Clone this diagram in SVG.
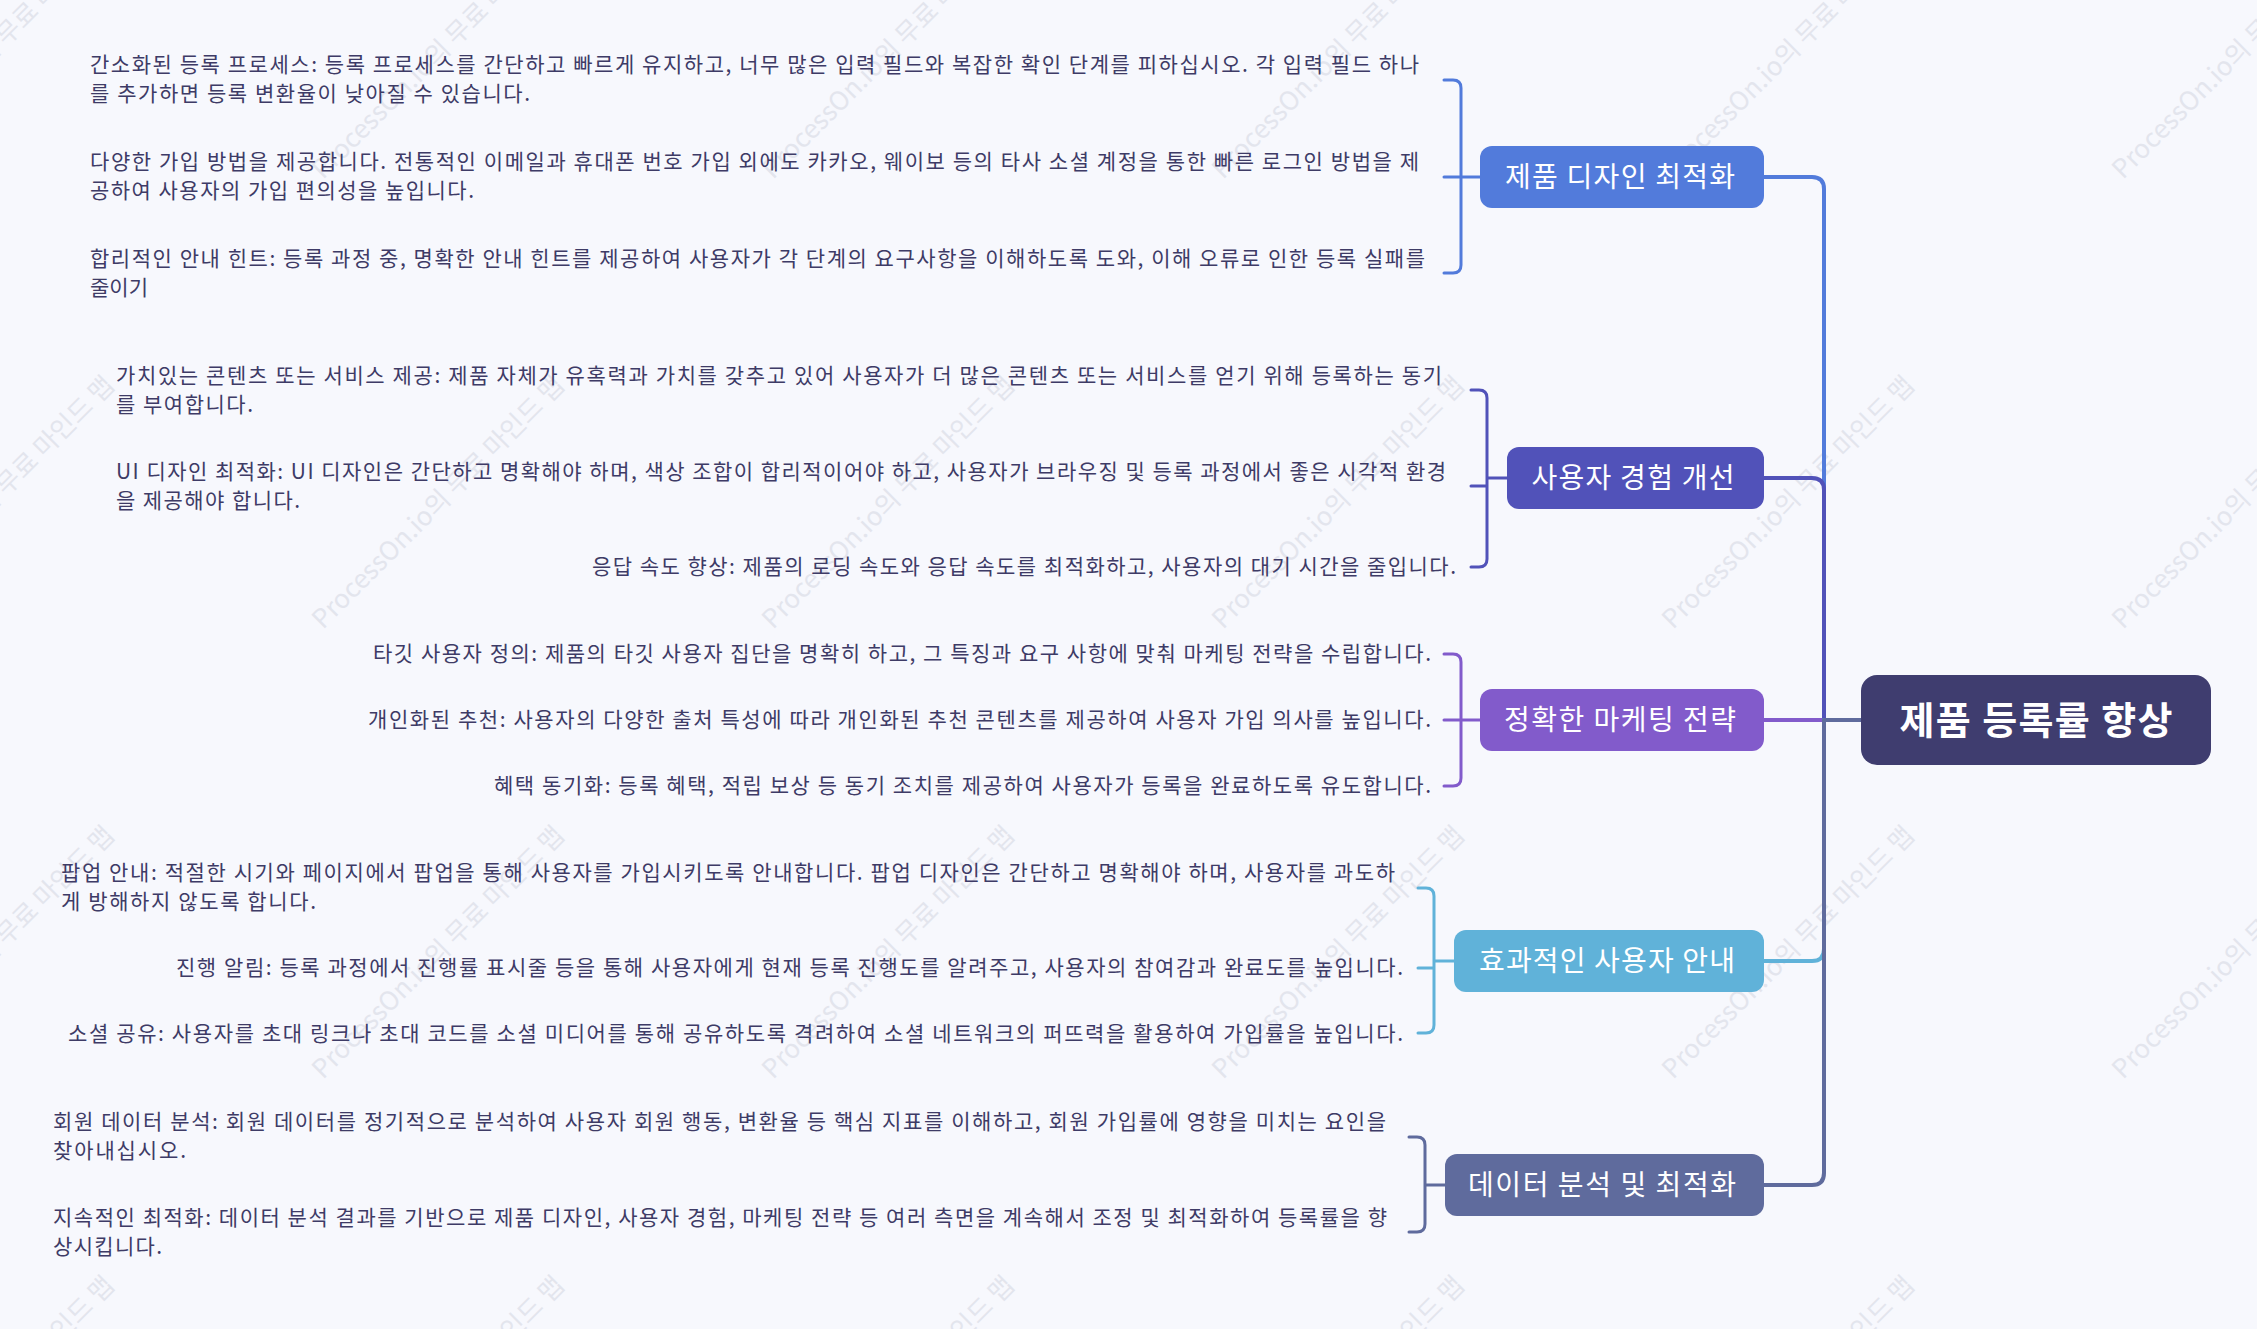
<svg xmlns="http://www.w3.org/2000/svg" width="2257" height="1329" viewBox="0 0 2257 1329">
<style>
.wm{font-family:"Noto Sans CJK KR","Noto Sans",sans-serif;font-size:26px;fill:#e3e5ed}
.leaf{font-family:"Noto Sans CJK KR","Noto Sans",sans-serif;font-size:21px;fill:#3e3b66}
.bt{font-family:"Noto Sans CJK KR","Noto Sans",sans-serif;font-size:28px;fill:#ffffff;text-anchor:middle}
.rt{font-family:"Noto Sans CJK KR","Noto Sans",sans-serif;font-size:38px;font-weight:700;fill:#ffffff;text-anchor:middle}
.ln{fill:none;stroke-width:4;stroke-linecap:round;stroke-linejoin:round}
.br{fill:none;stroke-width:3;stroke-linecap:round;stroke-linejoin:round}
.end{text-anchor:end}
</style>
<rect x="0" y="0" width="2257" height="1329" fill="#f7f8fd"/>
<g id="watermarks">
<text class="wm" transform="translate(-127,180) rotate(-45)">ProcessOn.io의 무료 마인드 맵</text>
<text class="wm" transform="translate(323,180) rotate(-45)">ProcessOn.io의 무료 마인드 맵</text>
<text class="wm" transform="translate(773,180) rotate(-45)">ProcessOn.io의 무료 마인드 맵</text>
<text class="wm" transform="translate(1223,180) rotate(-45)">ProcessOn.io의 무료 마인드 맵</text>
<text class="wm" transform="translate(1673,180) rotate(-45)">ProcessOn.io의 무료 마인드 맵</text>
<text class="wm" transform="translate(2123,180) rotate(-45)">ProcessOn.io의 무료 마인드 맵</text>
<text class="wm" transform="translate(-127,630) rotate(-45)">ProcessOn.io의 무료 마인드 맵</text>
<text class="wm" transform="translate(323,630) rotate(-45)">ProcessOn.io의 무료 마인드 맵</text>
<text class="wm" transform="translate(773,630) rotate(-45)">ProcessOn.io의 무료 마인드 맵</text>
<text class="wm" transform="translate(1223,630) rotate(-45)">ProcessOn.io의 무료 마인드 맵</text>
<text class="wm" transform="translate(1673,630) rotate(-45)">ProcessOn.io의 무료 마인드 맵</text>
<text class="wm" transform="translate(2123,630) rotate(-45)">ProcessOn.io의 무료 마인드 맵</text>
<text class="wm" transform="translate(-127,1080) rotate(-45)">ProcessOn.io의 무료 마인드 맵</text>
<text class="wm" transform="translate(323,1080) rotate(-45)">ProcessOn.io의 무료 마인드 맵</text>
<text class="wm" transform="translate(773,1080) rotate(-45)">ProcessOn.io의 무료 마인드 맵</text>
<text class="wm" transform="translate(1223,1080) rotate(-45)">ProcessOn.io의 무료 마인드 맵</text>
<text class="wm" transform="translate(1673,1080) rotate(-45)">ProcessOn.io의 무료 마인드 맵</text>
<text class="wm" transform="translate(2123,1080) rotate(-45)">ProcessOn.io의 무료 마인드 맵</text>
<text class="wm" transform="translate(-127,1530) rotate(-45)">ProcessOn.io의 무료 마인드 맵</text>
<text class="wm" transform="translate(323,1530) rotate(-45)">ProcessOn.io의 무료 마인드 맵</text>
<text class="wm" transform="translate(773,1530) rotate(-45)">ProcessOn.io의 무료 마인드 맵</text>
<text class="wm" transform="translate(1223,1530) rotate(-45)">ProcessOn.io의 무료 마인드 맵</text>
<text class="wm" transform="translate(1673,1530) rotate(-45)">ProcessOn.io의 무료 마인드 맵</text>
<text class="wm" transform="translate(2123,1530) rotate(-45)">ProcessOn.io의 무료 마인드 맵</text>
</g>
<g id="connectors">
<path class="ln" stroke="#825bcb" d="M1861,720 H1764"/>
<path class="ln" stroke="#527bdb" d="M1861,720 H1824 V189 Q1824,177 1812,177 H1764"/>
<path class="ln" stroke="#5152b9" d="M1861,720 H1824 V490 Q1824,478 1812,478 H1764"/>
<path class="ln" stroke="#60b2d9" d="M1861,720 H1824 V949 Q1824,961 1812,961 H1764"/>
<path class="ln" stroke="#5f6b9d" d="M1861,720 H1824 V1173 Q1824,1185 1812,1185 H1764"/>
<path class="br" stroke="#527bdb" d="M1444,80 H1453 Q1461,80 1461,88 V265 Q1461,273 1453,273 H1444 M1444,177 H1480"/>
<path class="br" stroke="#5152b9" d="M1471,390 H1479 Q1487,390 1487,398 V559 Q1487,567 1479,567 H1471 M1471,486 H1487 M1487,478 H1507"/>
<path class="br" stroke="#825bcb" d="M1444,654 H1453 Q1461,654 1461,662 V778 Q1461,786 1453,786 H1444 M1444,720 H1480"/>
<path class="br" stroke="#60b2d9" d="M1418,888 H1426 Q1434,888 1434,896 V1025 Q1434,1033 1426,1033 H1418 M1418,968 H1434 M1434,961 H1454"/>
<path class="br" stroke="#5f6b9d" d="M1409,1137 H1417 Q1425,1137 1425,1145 V1224 Q1425,1232 1417,1232 H1409 M1425,1185 H1445"/>
</g>
<g id="root">
<rect x="1861" y="675" width="350" height="90" rx="16" fill="#3f3d6f"/>
<text class="rt" x="2036" y="734" textLength="273">제품 등록률 향상</text>
</g>
<g id="branch-design">
<rect x="1480" y="146" width="284" height="62" rx="12" fill="#527bdb"/>
<text class="bt" x="1620" y="187" textLength="230">제품 디자인 최적화</text>
</g>
<g id="branch-ux">
<rect x="1507" y="447" width="257" height="62" rx="12" fill="#5152b9"/>
<text class="bt" x="1633" y="488" textLength="203">사용자 경험 개선</text>
</g>
<g id="branch-marketing">
<rect x="1480" y="689" width="284" height="62" rx="12" fill="#825bcb"/>
<text class="bt" x="1620" y="730" textLength="232">정확한 마케팅 전략</text>
</g>
<g id="branch-guide">
<rect x="1454" y="930" width="310" height="62" rx="12" fill="#60b2d9"/>
<text class="bt" x="1607" y="971" textLength="256">효과적인 사용자 안내</text>
</g>
<g id="branch-data">
<rect x="1445" y="1154" width="319" height="62" rx="12" fill="#5f6b9d"/>
<text class="bt" x="1602" y="1195" textLength="268">데이터 분석 및 최적화</text>
</g>
<g id="leaf-design-1">
<text class="leaf" x="90" y="72" textLength="1329">간소화된 등록 프로세스: 등록 프로세스를 간단하고 빠르게 유지하고, 너무 많은 입력 필드와 복잡한 확인 단계를 피하십시오. 각 입력 필드 하나</text>
<text class="leaf" x="90" y="101" textLength="440">를 추가하면 등록 변환율이 낮아질 수 있습니다.</text>
</g>
<g id="leaf-design-2">
<text class="leaf" x="90" y="169" textLength="1329">다양한 가입 방법을 제공합니다. 전통적인 이메일과 휴대폰 번호 가입 외에도 카카오, 웨이보 등의 타사 소셜 계정을 통한 빠른 로그인 방법을 제</text>
<text class="leaf" x="90" y="198" textLength="384">공하여 사용자의 가입 편의성을 높입니다.</text>
</g>
<g id="leaf-design-3">
<text class="leaf" x="90" y="266" textLength="1335">합리적인 안내 힌트: 등록 과정 중, 명확한 안내 힌트를 제공하여 사용자가 각 단계의 요구사항을 이해하도록 도와, 이해 오류로 인한 등록 실패를</text>
<text class="leaf" x="90" y="295">줄이기</text>
</g>
<g id="leaf-ux-1">
<text class="leaf" x="116" y="383" textLength="1326">가치있는 콘텐츠 또는 서비스 제공: 제품 자체가 유혹력과 가치를 갖추고 있어 사용자가 더 많은 콘텐츠 또는 서비스를 얻기 위해 등록하는 동기</text>
<text class="leaf" x="116" y="412" textLength="137">를 부여합니다.</text>
</g>
<g id="leaf-ux-2">
<text class="leaf" x="116" y="479" textLength="1330">UI 디자인 최적화: UI 디자인은 간단하고 명확해야 하며, 색상 조합이 합리적이어야 하고, 사용자가 브라우징 및 등록 과정에서 좋은 시각적 환경</text>
<text class="leaf" x="116" y="508" textLength="184">을 제공해야 합니다.</text>
</g>
<g id="leaf-ux-3">
<text class="leaf end" x="1456" y="574" textLength="864">응답 속도 향상: 제품의 로딩 속도와 응답 속도를 최적화하고, 사용자의 대기 시간을 줄입니다.</text>
</g>
<g id="leaf-marketing-1">
<text class="leaf end" x="1431" y="661" textLength="1058">타깃 사용자 정의: 제품의 타깃 사용자 집단을 명확히 하고, 그 특징과 요구 사항에 맞춰 마케팅 전략을 수립합니다.</text>
</g>
<g id="leaf-marketing-2">
<text class="leaf end" x="1431" y="727" textLength="1063">개인화된 추천: 사용자의 다양한 출처 특성에 따라 개인화된 추천 콘텐츠를 제공하여 사용자 가입 의사를 높입니다.</text>
</g>
<g id="leaf-marketing-3">
<text class="leaf end" x="1431" y="793" textLength="937">혜택 동기화: 등록 혜택, 적립 보상 등 동기 조치를 제공하여 사용자가 등록을 완료하도록 유도합니다.</text>
</g>
<g id="leaf-guide-1">
<text class="leaf" x="61" y="880" textLength="1334">팝업 안내: 적절한 시기와 페이지에서 팝업을 통해 사용자를 가입시키도록 안내합니다. 팝업 디자인은 간단하고 명확해야 하며, 사용자를 과도하</text>
<text class="leaf" x="61" y="909" textLength="255">게 방해하지 않도록 합니다.</text>
</g>
<g id="leaf-guide-2">
<text class="leaf end" x="1403" y="975" textLength="1227">진행 알림: 등록 과정에서 진행률 표시줄 등을 통해 사용자에게 현재 등록 진행도를 알려주고, 사용자의 참여감과 완료도를 높입니다.</text>
</g>
<g id="leaf-guide-3">
<text class="leaf end" x="1403" y="1041" textLength="1335">소셜 공유: 사용자를 초대 링크나 초대 코드를 소셜 미디어를 통해 공유하도록 격려하여 소셜 네트워크의 퍼뜨력을 활용하여 가입률을 높입니다.</text>
</g>
<g id="leaf-data-1">
<text class="leaf" x="53" y="1129" textLength="1333">회원 데이터 분석: 회원 데이터를 정기적으로 분석하여 사용자 회원 행동, 변환율 등 핵심 지표를 이해하고, 회원 가입률에 영향을 미치는 요인을</text>
<text class="leaf" x="53" y="1158" textLength="133">찾아내십시오.</text>
</g>
<g id="leaf-data-2">
<text class="leaf" x="53" y="1225" textLength="1334">지속적인 최적화: 데이터 분석 결과를 기반으로 제품 디자인, 사용자 경험, 마케팅 전략 등 여러 측면을 계속해서 조정 및 최적화하여 등록률을 향</text>
<text class="leaf" x="53" y="1254" textLength="109">상시킵니다.</text>
</g>
</svg>
